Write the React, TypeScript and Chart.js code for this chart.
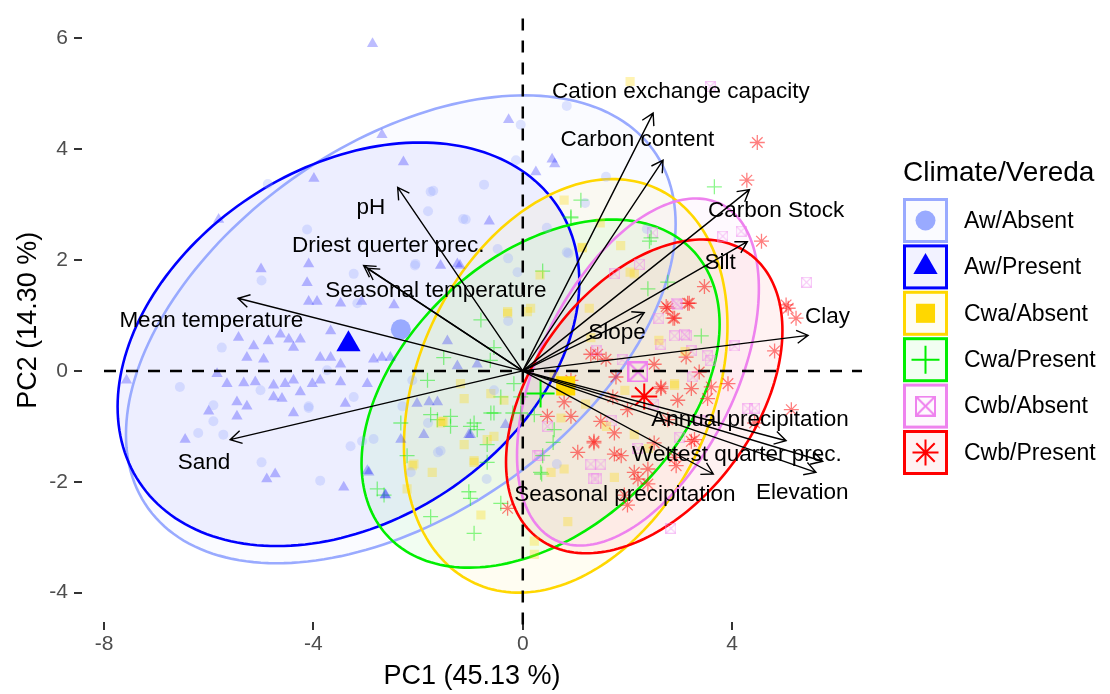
import React, { useEffect, useRef } from 'react';
import { Chart, registerables } from 'chart.js';
import { drawPoint } from 'chart.js/helpers';

Chart.register(...registerables);

const FONT = '"Liberation Sans", Arial, Helvetica, sans-serif';

// ---------- groups ----------
const groupNames = ['Aw/Absent', 'Aw/Present', 'Cwa/Absent', 'Cwa/Present', 'Cwb/Absent', 'Cwb/Present'];
const groupColors = ['#99AAFF', '#0000FF', '#FFD700', '#00EE00', '#EE82EE', '#FF0000'];
const groupShapes = ['circle', 'triangle', 'rect', 'cross', 'crossbox', 'star'];

// ---------- individual scores (PC1, PC2) ----------
const awAbsent: [number, number][] = [
  [-4.99, 1.63], [-4.12, 2.55], [-3.23, 1.75], [-2.05, 1.93], [-1.09, 2.73], [-5.75, 0.42], [-6.55, -0.29],
  [-5.91, -0.62], [-5.01, -0.35], [-4.09, -0.64], [-3.74, 0.01], [-3.23, -0.47], [-2.30, -0.64], [-2.11, -0.17],
  [-0.55, -0.35], [-0.48, 2.20], [-0.10, 1.78], [-1.76, 3.23], [-3.16, 1.22], [-6.20, -1.12], [-5.72, -1.15],
  [-5.91, -0.91], [-4.99, -1.65], [-3.87, -1.98], [-3.29, -1.36], [-3.07, -1.27], [-2.85, -1.23], [-1.57, -1.44],
  [-2.14, -1.83], [-4.09, -0.67], [0.84, 4.78], [-0.04, 4.44], [-0.13, 3.80], [-0.74, 3.36], [-1.71, 3.25],
  [-4.87, 3.37], [1.59, 3.50], [-1.14, 2.74], [-1.81, 2.88], [-2.06, 1.90], [-0.28, 2.03], [0.84, 2.14],
  [1.19, 3.03], [2.37, 2.56], [0.46, 2.58], [0.87, 2.12], [-0.28, 0.90], [-1.62, -1.47], [-1.81, -0.94],
  [-0.69, -1.95], [0.65, -1.68],
];
const awPresent: [number, number][] = [
  [-5.81, 2.73], [-5.00, 1.84], [-4.09, 1.93], [-4.12, 1.59], [-0.64, 2.70], [-1.25, 1.93], [-1.57, 1.90],
  [-4.09, 1.25], [-3.93, 1.25], [-3.48, 1.22], [-3.08, 1.25], [-2.46, 1.19], [-5.43, 0.60], [-5.14, 0.45],
  [-4.86, 0.54], [-4.63, 0.66], [-4.47, 0.57], [-4.38, 0.42], [-4.25, 0.57], [-3.67, 0.72], [-3.87, 0.24],
  [-3.67, 0.24], [-3.48, 0.12], [-2.85, 0.21], [-2.69, 0.24], [-5.27, 0.24], [-4.95, 0.21], [-5.84, -0.05],
  [-5.65, -0.23], [-5.33, -0.22], [-5.11, -0.20], [-4.76, -0.26], [-4.54, -0.23], [-4.38, -0.17], [-4.25, -0.38],
  [-4.02, -0.23], [-3.87, -0.17], [-3.48, -0.20], [-2.97, -0.23], [-5.46, -0.56], [-5.27, -0.64], [-5.46, -0.82],
  [-6.00, -0.73], [-4.76, -0.47], [-4.60, -0.50], [-4.38, -0.76], [-3.39, -0.59], [-7.57, -0.17], [-2.53, 0.24],
  [-1.44, 0.54], [-1.25, 0.09], [-0.87, 0.12], [-2.02, -0.59], [-1.79, -0.56], [-1.63, -0.56], [-6.45, -1.24],
  [-4.89, -1.95], [-4.73, -1.86], [-3.42, -2.10], [-2.63, -2.24], [-2.97, -1.80], [-2.33, -1.24], [-1.89, -1.15],
  [-1.03, -1.15], [-2.87, 5.90], [-0.27, 4.53], [-2.69, 4.26], [-3.99, 3.47], [-2.28, 3.77], [0.56, 3.82],
  [0.61, 3.73], [0.25, 3.59], [-2.94, -1.83], [-2.62, -2.24], [-1.00, -1.15], [-0.33, -0.97], [-1.20, 1.90],
];
const cwaAbsent: [number, number][] = [
  [0.79, 3.08], [1.87, 2.26], [1.14, 2.22], [-0.29, 1.07], [0.15, 1.13], [2.13, 1.75], [1.27, 1.13], [2.90, -0.23],
  [-1.12, -0.50], [-0.61, -0.41], [-0.36, -0.53], [-1.54, -0.91], [-1.12, -1.33], [-1.73, -1.83], [-2.11, -1.71],
  [-0.93, -1.62], [-0.80, -2.60], [-0.55, -1.18], [0.22, -3.07], [0.22, -3.31], [0.54, -1.83], [0.79, -1.77],
  [0.86, -2.72], [1.75, -1.92], [0.73, -0.85], [2.13, -1.15], [2.90, -0.26], [-0.29, 1.04], [0.09, 1.07],
  [-1.51, -0.91], [-1.19, -0.23], [-1.57, -0.94], [-0.93, -1.65], [-2.08, -1.68], [-2.21, -2.13], [-0.68, -1.24],
  [2.05, 5.22], [1.48, 2.67], [1.13, 2.23], [0.33, 1.73], [2.05, 1.78], [1.20, -0.60], [1.60, -1.00],
  [2.40, -1.40], [1.95, -0.35], [0.60, -0.10], [2.60, 0.55], [3.10, 0.35], [1.30, 0.60],
];
const cwaPresent: [number, number][] = [
  [3.66, 3.32], [1.11, 3.08], [0.92, 2.78], [0.38, 1.80], [2.39, 1.48], [2.77, 1.60], [2.42, 2.34], [3.41, 0.63],
  [-1.76, -0.79], [-1.38, -1.00], [-1.00, -1.00], [-0.68, -1.33], [-2.21, -1.53], [-2.65, -2.24], [-1.76, -2.63],
  [-0.93, -2.93], [-1.03, -2.18], [-0.55, -0.76], [0.22, -0.79], [0.34, -1.83], [0.38, -1.53], [0.60, -1.06],
  [-0.42, -2.39], [-0.68, -1.65], [-0.04, -0.47], [-2.33, -0.94], [0.92, 2.76], [2.45, 2.40], [-1.51, 0.24],
  [-0.80, 0.92], [-0.55, 0.42], [-0.17, -0.23], [-0.42, -0.47], [-1.38, -0.82], [-0.93, -0.94], [-0.04, -0.76],
  [-1.82, -0.17], [-1.63, -0.88], [-2.78, -2.13], [-0.87, -1.06], [-0.61, -0.76], [-1.00, -2.30], [-0.62, 0.19],
  [0.58, -1.29], [-0.19, -0.76], [0.36, -1.86],
];
const cwbAbsent: [number, number][] = [
  [2.48, 2.49], [4.17, 2.52], [3.82, 2.43], [5.42, 1.60], [2.93, 1.22], [2.90, 0.63], [3.12, 0.63], [2.64, 0.48],
  [3.25, -0.11], [4.43, -0.67], [2.23, 1.92], [1.75, 1.75], [3.53, 0.27], [0.28, -1.53], [1.30, -1.68],
  [1.49, -1.68], [1.40, -1.95], [2.83, -2.84], [4.30, -0.68], [0.47, -1.00], [3.58, 5.13], [2.96, 1.19],
  [3.22, 0.36], [1.36, -1.95], [0.31, -1.53], [3.09, 0.66], [3.58, 0.19], [1.41, 0.36], [1.90, 0.20],
  [2.50, -0.60], [3.00, -1.20], [1.70, -0.90], [2.20, -1.40], [3.40, -0.90], [2.60, 0.95], [4.05, 0.45],
];
const cwbPresent: [number, number][] = [
  [4.48, 4.12], [4.28, 3.44], [4.56, 2.34], [5.03, 1.19], [5.22, 0.95], [4.81, 0.36], [3.47, 1.52], [3.18, 1.22],
  [2.90, 0.95], [2.74, 1.16], [1.43, 0.30], [1.59, 0.21], [2.64, -0.29], [3.60, -0.29], [3.37, -0.02], [3.12, 0.25],
  [1.78, -0.11], [0.92, -0.82], [1.36, -1.27], [1.05, -1.47], [1.75, -1.50], [2.13, -1.83], [2.00, -2.42],
  [2.39, -2.04], [2.93, -1.71], [3.22, -1.27], [3.22, -0.32], [2.64, -0.32], [-0.29, -2.48], [1.49, -0.91],
  [0.79, -0.56], [1.72, -0.47], [2.77, -0.88], [2.51, -1.30], [2.77, 1.13], [3.15, 1.22], [2.87, 0.95],
  [5.07, 1.13], [1.36, -1.30], [1.75, -1.12], [2.00, -0.70], [2.96, -0.53], [3.53, -0.50], [1.88, -1.53],
  [2.39, -1.77], [2.90, -1.56], [3.28, -1.24], [1.94, -2.24], [2.20, -1.95], [0.92, -0.17], [1.30, 0.30],
  [0.47, -0.82], [2.51, 0.12], [3.92, -0.23], [4.43, -0.94], [5.13, -0.70],
];
const groupScores = [awAbsent, awPresent, cwaAbsent, cwaPresent, cwbAbsent, cwbPresent];

// ---------- group means ----------
const meanX = [-2.33, -3.33, 0.82, 0.34, 2.20, 2.32];
const meanY = [0.75, 0.48, -0.27, -0.41, -0.02, -0.46];

// ---------- confidence ellipses (half extent along PC1 / PC2, correlation) ----------
const ellHalfX = [5.25, 4.41, 3.09, 3.42, 2.31, 2.64];
const ellHalfY = [4.22, 3.64, 3.73, 3.14, 3.13, 2.83];
const ellRho = [0.45, 0.31, 0.29, 0.40, 0.48, 0.42];

// ---------- variable loadings ----------
const varNames = [
  'Cation exchange capacity', 'Carbon content', 'Carbon Stock', 'Silt', 'Slope', 'Clay',
  'Annual precipitation', 'Wettest quarter prec.', 'Elevation', 'Seasonal precipitation', 'Sand',
  'Mean temperature', 'Driest querter prec.', 'Seasonal temperature', 'pH',
];
const loadX = [2.49, 2.68, 4.33, 4.29, 2.32, 5.45, 5.03, 5.73, 5.60, 3.64, -5.59, -5.44, -3.04, -2.97, -2.39];
const loadY = [4.65, 3.80, 3.27, 2.33, 1.05, 0.64, -1.26, -1.63, -1.83, -1.86, -1.24, 1.31, 1.90, 1.85, 3.31];
const labelX = [3.02, 2.19, 4.84, 3.77, 1.80, 5.82, 4.34, 4.09, 5.34, 1.95, -6.09, -5.95, -2.57, -1.66, -2.90];
const labelY = [5.03, 4.16, 2.88, 1.95, 0.68, 0.98, -0.88, -1.52, -2.20, -2.24, -1.65, 0.91, 2.26, 1.44, 2.95];

// ---------- axes ----------
const xTicks = [-8, -4, 0, 4];
const yTicks = [-4, -2, 0, 2, 4, 6];
const xTitle = 'PC1 (45.13 %)';
const yTitle = 'PC2 (14.30 %)';
const legendTitle = 'Climate/Vereda';

function rgba(hex: string, a: number) {
  const n = parseInt(hex.slice(1), 16);
  return `rgba(${(n >> 16) & 255},${(n >> 8) & 255},${n & 255},${a})`;
}

function makeCrossbox(size: number, color: string, lw: number) {
  const c = document.createElement('canvas');
  c.width = size;
  c.height = size;
  const g = c.getContext('2d')!;
  g.strokeStyle = color;
  g.lineWidth = lw;
  const m = lw / 2;
  g.strokeRect(m, m, size - 2 * m, size - 2 * m);
  g.beginPath();
  g.moveTo(m, m);
  g.lineTo(size - m, size - m);
  g.moveTo(size - m, m);
  g.lineTo(m, size - m);
  g.stroke();
  return c;
}

const smallRadius: Record<string, number> = { circle: 5, triangle: 6.5, rect: 6.5, cross: 7.5, star: 7.5, crossbox: 6 };
const bigRadius: Record<string, number> = { circle: 10, triangle: 14, rect: 13.5, cross: 14, star: 13, crossbox: 11 };
const smallAlpha = [0.3, 0.26, 0.3, 0.45, 0.45, 0.5];

function styleFor(i: number, big: boolean) {
  const shape = groupShapes[i];
  const col = groupColors[i];
  const a = big ? 1 : smallAlpha[i];
  const isLine = shape === 'cross' || shape === 'star';
  let pointStyle: any = shape;
  if (shape === 'crossbox') {
    pointStyle = makeCrossbox(big ? 21 : 11, rgba(col, a), big ? 2 : 1.2);
  }
  return {
    pointStyle,
    pointRadius: big ? bigRadius[shape] : smallRadius[shape],
    backgroundColor: rgba(col, a),
    borderColor: rgba(col, a),
    borderWidth: isLine ? (big ? 2 : 1.3) : 0,
  };
}

function ellipsePath(chart: any, i: number) {
  const { x, y } = chart.scales;
  const ctx = chart.ctx;
  const s = Math.sqrt(1 - ellRho[i] * ellRho[i]);
  ctx.beginPath();
  for (let k = 0; k <= 200; k++) {
    const t = (k / 200) * Math.PI * 2;
    const dx = meanX[i] + ellHalfX[i] * Math.cos(t);
    const dy = meanY[i] + ellHalfY[i] * (ellRho[i] * Math.cos(t) + s * Math.sin(t));
    const px = x.getPixelForValue(dx);
    const py = y.getPixelForValue(dy);
    if (k === 0) ctx.moveTo(px, py);
    else ctx.lineTo(px, py);
  }
  ctx.closePath();
}

const ellipsePlugin = {
  id: 'ellipses',
  beforeDatasetsDraw(chart: any) {
    const { ctx, chartArea } = chart;
    ctx.save();
    ctx.beginPath();
    ctx.rect(chartArea.left, chartArea.top, chartArea.right - chartArea.left, chartArea.bottom - chartArea.top);
    ctx.clip();
    for (let i = 0; i < groupNames.length; i++) {
      ellipsePath(chart, i);
      ctx.fillStyle = rgba(groupColors[i], 0.05);
      ctx.fill();
    }
    for (let i = 0; i < groupNames.length; i++) {
      ellipsePath(chart, i);
      ctx.strokeStyle = groupColors[i];
      ctx.lineWidth = 2.6;
      ctx.stroke();
    }
    ctx.restore();
  },
};

const overlayPlugin = {
  id: 'overlay',
  afterDatasetsDraw(chart: any) {
    const { ctx, chartArea, scales } = chart;
    const x = scales.x;
    const y = scales.y;
    const x0 = x.getPixelForValue(0);
    const y0 = y.getPixelForValue(0);
    ctx.save();
    // zero lines
    ctx.strokeStyle = '#000';
    ctx.lineWidth = 2.5;
    ctx.setLineDash([12, 10]);
    ctx.beginPath();
    ctx.moveTo(chartArea.left + 22, y0);
    ctx.lineTo(chartArea.right, y0);
    ctx.stroke();
    ctx.beginPath();
    ctx.moveTo(x0, chartArea.top);
    ctx.lineTo(x0, chartArea.bottom + 6);
    ctx.stroke();
    ctx.setLineDash([]);
    // arrows
    ctx.lineWidth = 1.4;
    for (let i = 0; i < varNames.length; i++) {
      const px = x.getPixelForValue(loadX[i]);
      const py = y.getPixelForValue(loadY[i]);
      ctx.beginPath();
      ctx.moveTo(x0, y0);
      ctx.lineTo(px, py);
      const ang = Math.atan2(py - y0, px - x0);
      const L = 13;
      const spread = Math.PI / 6;
      ctx.moveTo(px - L * Math.cos(ang - spread), py - L * Math.sin(ang - spread));
      ctx.lineTo(px, py);
      ctx.lineTo(px - L * Math.cos(ang + spread), py - L * Math.sin(ang + spread));
      ctx.stroke();
    }
    // labels
    ctx.fillStyle = '#000';
    ctx.font = `22.5px ${FONT}`;
    ctx.textAlign = 'center';
    ctx.textBaseline = 'middle';
    for (let i = 0; i < varNames.length; i++) {
      ctx.fillText(varNames[i], x.getPixelForValue(labelX[i]), y.getPixelForValue(labelY[i]));
    }
    ctx.restore();
  },
  afterDraw(chart: any) {
    const { ctx, chartArea } = chart;
    ctx.save();
    // axis titles
    ctx.fillStyle = '#000';
    ctx.font = `27px ${FONT}`;
    ctx.textAlign = 'center';
    ctx.textBaseline = 'alphabetic';
    ctx.fillText(xTitle, (chartArea.left + chartArea.right) / 2, 684);
    ctx.save();
    ctx.translate(36, (chartArea.top + chartArea.bottom) / 2);
    ctx.rotate(-Math.PI / 2);
    ctx.fillText(yTitle, 0, 0);
    ctx.restore();
    // legend
    const lx = chartArea.right + 41;
    ctx.textAlign = 'left';
    ctx.font = `28px ${FONT}`;
    ctx.fillText(legendTitle, lx, 181);
    const box = 45;
    const pitch = 46.4;
    for (let i = 0; i < groupNames.length; i++) {
      const top = 198 + i * pitch;
      ctx.fillStyle = '#fff';
      ctx.fillRect(lx, top, box, box);
      ctx.fillStyle = rgba(groupColors[i], 0.05);
      ctx.fillRect(lx, top, box, box);
      ctx.strokeStyle = groupColors[i];
      ctx.lineWidth = 3;
      ctx.strokeRect(lx + 1.5, top + 1.5, box - 3, box - 3);
      const st = styleFor(i, true);
      ctx.fillStyle = st.backgroundColor;
      ctx.strokeStyle = st.borderColor;
      ctx.lineWidth = st.borderWidth;
      drawPoint(ctx, { pointStyle: st.pointStyle, radius: st.pointRadius, rotation: 0, borderWidth: st.borderWidth } as any, lx + box / 2, top + box / 2);
      ctx.fillStyle = '#000';
      ctx.font = `23px ${FONT}`;
      ctx.textBaseline = 'middle';
      ctx.fillText(groupNames[i], lx + 61, top + box / 2 + 1);
      ctx.textBaseline = 'alphabetic';
    }
    ctx.restore();
  },
};

export default function App() {
  const ref = useRef<HTMLCanvasElement | null>(null);
  useEffect(() => {
    if (!ref.current) return;
    const datasets: any[] = [];
    groupScores.forEach((pts, i) => {
      datasets.push({
        label: groupNames[i],
        data: pts.map(([px, py]) => ({ x: px, y: py })),
        order: 2,
        ...styleFor(i, false),
      });
    });
    groupNames.forEach((name, i) => {
      datasets.push({
        label: name + ' mean',
        data: [{ x: meanX[i], y: meanY[i] }],
        order: 1,
        ...styleFor(i, true),
      });
    });
    const tickFont = { size: 21, family: FONT };
    const chart = new Chart(ref.current, {
      type: 'scatter',
      data: { datasets },
      options: {
        responsive: false,
        animation: false,
        devicePixelRatio: 1,
        events: [],
        layout: { padding: { top: 9, right: 248, left: 0, bottom: 0 } },
        plugins: { legend: { display: false }, tooltip: { enabled: false } },
        scales: {
          x: {
            type: 'linear',
            min: -8.42,
            max: 6.48,
            afterFit: (s: any) => { s.height = 72; },
            afterBuildTicks: (s: any) => { s.ticks = xTicks.map((v) => ({ value: v })); },
            grid: { drawOnChartArea: false, drawTicks: true, tickLength: 8, color: '#333333', lineWidth: 2 },
            border: { display: false },
            ticks: { color: '#4D4D4D', font: tickFont, padding: 2, autoSkip: false, maxRotation: 0 },
          },
          y: {
            type: 'linear',
            min: -4.53,
            max: 6.355,
            afterFit: (s: any) => { s.width = 82; },
            afterBuildTicks: (s: any) => { s.ticks = yTicks.map((v) => ({ value: v })); },
            grid: { drawOnChartArea: false, drawTicks: true, tickLength: 8, color: '#333333', lineWidth: 2 },
            border: { display: false },
            ticks: { color: '#4D4D4D', font: tickFont, padding: 6, autoSkip: false },
          },
        },
      },
      plugins: [ellipsePlugin, overlayPlugin],
    } as any);
    return () => chart.destroy();
  }, []);
  return (
    <div style={{ position: 'fixed', left: 0, top: 0, width: 1110, height: 694, background: '#fff' }}>
      <canvas ref={ref} width={1110} height={694} style={{ width: 1110, height: 694, display: 'block' }} />
    </div>
  );
}
